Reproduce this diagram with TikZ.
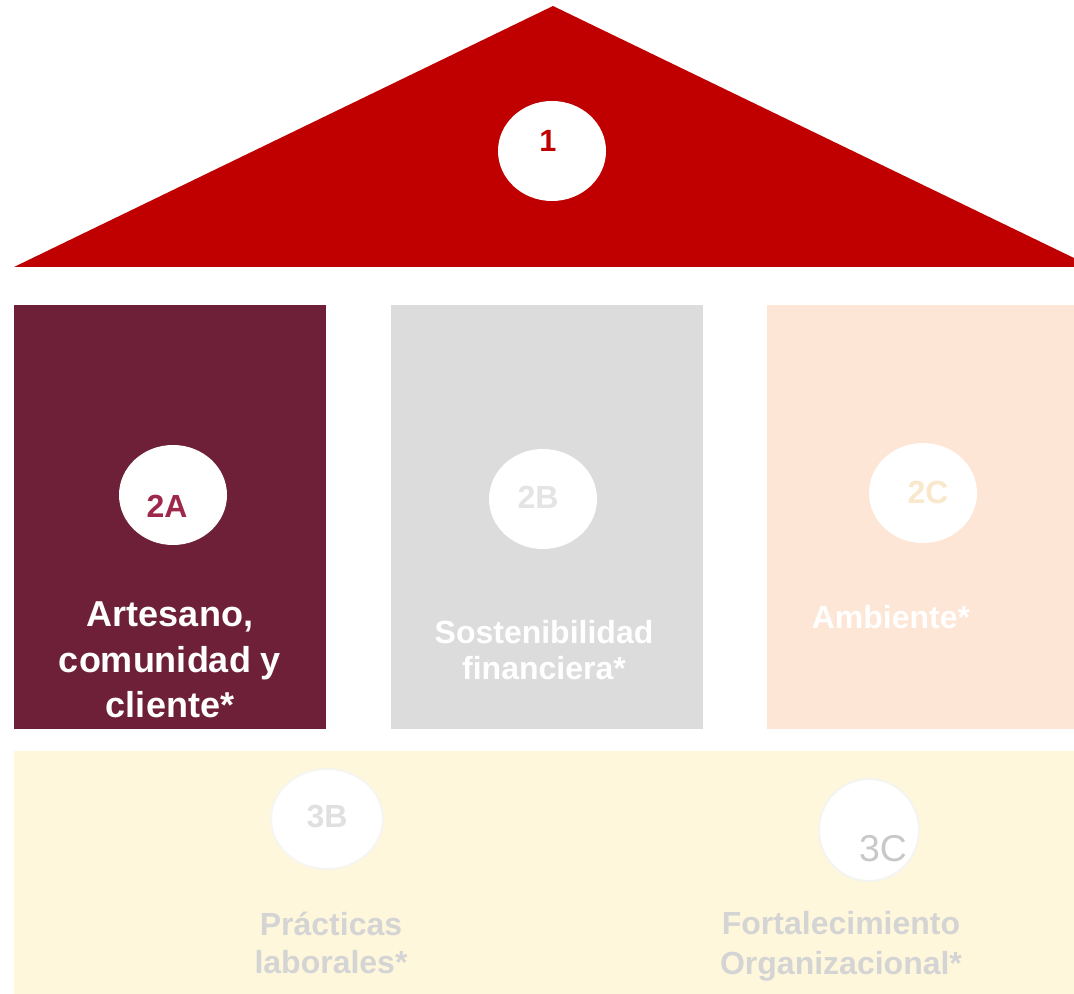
\documentclass[tikz,border=0pt]{standalone}
\usepackage{fontspec}
\setmainfont{Liberation Sans}

\begin{document}
\begin{tikzpicture}[x=0.75pt,y=0.75pt,yscale=-1,xscale=1,
  disc/.style={fill=white},
  lbl/.style={font=\bfseries\fontsize{24}{27}\selectfont, align=center}]
\useasboundingbox (0,0) rectangle (1074,994);

%Shape: Triangle [roof]
\fill [color={rgb, 255:red, 192; green, 0; blue, 0 }] (14,267) -- (553,6) -- (1074,258) -- (1074,267) -- cycle ;

%Shape: Rectangle [pillar A]
\fill [color={rgb, 255:red, 109; green, 32; blue, 55 }] (14,305) rectangle (326,729) ;
%Shape: Rectangle [pillar B]
\fill [color={rgb, 255:red, 220; green, 220; blue, 220 }] (391,305) rectangle (703,729) ;
%Shape: Rectangle [pillar C]
\fill [color={rgb, 255:red, 254; green, 230; blue, 214 }] (767,305) rectangle (1074,729) ;
%Shape: Rectangle [base]
\fill [color={rgb, 255:red, 254; green, 247; blue, 220 }] (14,751) rectangle (1074,994) ;

%Shape: Ellipse
\draw [disc, draw=none] (552,151) ellipse (54 and 50) ;
\draw [disc, draw=none] (173,495) ellipse (54 and 50) ;
\draw [disc, draw=none] (543,499) ellipse (54 and 50) ;
\draw [disc, draw=none] (923,493) ellipse (54 and 50) ;
\draw [disc, draw={rgb, 255:red, 246; green, 245; blue, 240 }, line width=1.5] (327,819) ellipse (56 and 50) ;
\draw [disc, draw={rgb, 255:red, 244; green, 244; blue, 240 }, line width=1.5] (869,830) ellipse (50 and 51) ;

% Text Node
\node (n1) [font=\bfseries\fontsize{23}{25}\selectfont, text={rgb, 255:red, 192; green, 0; blue, 0 }] at (548,141) {1};
% Text Node
\node (n2a) [font=\bfseries\fontsize{24}{26}\selectfont, text={rgb, 255:red, 158; green, 40; blue, 75 }] at (167,506) {2A};
% Text Node
\node (n2b) [font=\bfseries\fontsize{24}{26}\selectfont, text={rgb, 255:red, 228; green, 228; blue, 228 }] at (538,497) {2B};
% Text Node
\node (n2c) [font=\bfseries\fontsize{24}{26}\selectfont, text={rgb, 255:red, 249; green, 232; blue, 204 }] at (928,492) {2C};
% Text Node
\node (n3b) [font=\bfseries\fontsize{24}{26}\selectfont, text={rgb, 255:red, 224; green, 224; blue, 224 }] at (327,817) {3B};
% Text Node
\node (n3c) [font=\fontsize{28}{30}\selectfont, text={rgb, 255:red, 200; green, 200; blue, 200 }] at (883,849) {3C};

% Text Node
\node (lab2a) [lbl, font=\bfseries\fontsize{27}{34}\selectfont, text=white] at (170,660) {Artesano,\\comunidad y\\cliente*};
% Text Node
\node (lab2b) [lbl, text=white] at (544,650) {Sostenibilidad\\financiera*};
% Text Node
\node (lab2c) [lbl, text=white] at (891,617) {Ambiente*};
% Text Node
\node (lab3b) [lbl, font=\bfseries\fontsize{24}{29}\selectfont, text={rgb, 255:red, 212; green, 212; blue, 212 }] at (331,943) {Prácticas\\laborales*};
% Text Node
\node (lab3c) [lbl, font=\bfseries\fontsize{24}{30}\selectfont, text={rgb, 255:red, 212; green, 212; blue, 212 }] at (841,946) {Fortalecimiento\\Organizacional*};

\end{tikzpicture}
\end{document}
